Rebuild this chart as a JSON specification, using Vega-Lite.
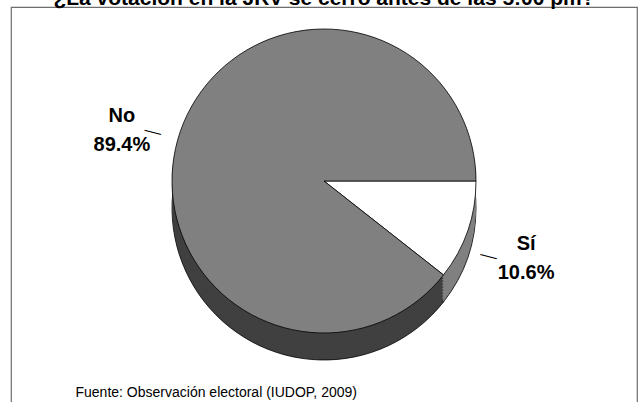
{
  "$schema": "https://vega.github.io/schema/vega-lite/v6.json",
  "width": 626,
  "height": 400,
  "autosize": {"type": "none"},
  "padding": {"left": 11, "top": 7, "right": 4, "bottom": 0},
  "background": "white",
  "config": {
    "view": {"stroke": "#6e6e6e", "strokeWidth": 1.2},
    "font": "Liberation Sans"
  },
  "title": {
    "text": "¿La votación en la JRV se cerró antes de las 5:00 pm?",
    "font": "Liberation Sans",
    "fontSize": 21,
    "fontWeight": "bold",
    "color": "#000000",
    "anchor": "middle",
    "frame": "group",
    "offset": -2
  },
  "data": {
    "values": [
      {"category": "Sí", "value": 0.106},
      {"category": "No", "value": 0.894}
    ]
  },
  "encoding": {
    "x": {
      "datum": 0,
      "type": "quantitative",
      "scale": {"domain": [-1, 1]},
      "axis": {
        "title": "Fuente: Observación electoral (IUDOP, 2009)",
        "labels": false,
        "ticks": false,
        "domain": false,
        "grid": false,
        "titleX": 64,
        "titleY": -11,
        "titleAlign": "left",
        "titleAnchor": "start",
        "titleBaseline": "alphabetic",
        "titleFont": "Liberation Sans",
        "titleFontSize": 14,
        "titleFontWeight": "normal",
        "titleColor": "#000000"
      }
    },
    "y": {
      "datum": 0,
      "type": "quantitative",
      "scale": {"domain": [-0.565, 0.435]},
      "axis": null
    },
    "theta": {
      "field": "value",
      "type": "quantitative",
      "stack": true,
      "scale": {"domain": [0, 1], "range": [1.5708, 7.854]}
    },
    "order": {"field": "category", "sort": "descending"}
  },
  "layer": [
    {
      "mark": {"type": "arc", "radius": 152, "yOffset": 27, "stroke": "#000000", "strokeWidth": 0.8},
      "encoding": {"fill": {"field": "category", "type": "nominal", "scale": {"domain": ["No", "Sí"], "range": ["#404040", "#808080"]}, "legend": null}}
    },
    {
      "mark": {"type": "arc", "radius": 152, "yOffset": 24},
      "encoding": {"fill": {"field": "category", "type": "nominal", "scale": {"domain": ["No", "Sí"], "range": ["#404040", "#808080"]}, "legend": null}}
    },
    {
      "mark": {"type": "arc", "radius": 152, "yOffset": 21},
      "encoding": {"fill": {"field": "category", "type": "nominal", "scale": {"domain": ["No", "Sí"], "range": ["#404040", "#808080"]}, "legend": null}}
    },
    {
      "mark": {"type": "arc", "radius": 152, "yOffset": 18},
      "encoding": {"fill": {"field": "category", "type": "nominal", "scale": {"domain": ["No", "Sí"], "range": ["#404040", "#808080"]}, "legend": null}}
    },
    {
      "mark": {"type": "arc", "radius": 152, "yOffset": 15},
      "encoding": {"fill": {"field": "category", "type": "nominal", "scale": {"domain": ["No", "Sí"], "range": ["#404040", "#808080"]}, "legend": null}}
    },
    {
      "mark": {"type": "arc", "radius": 152, "yOffset": 12},
      "encoding": {"fill": {"field": "category", "type": "nominal", "scale": {"domain": ["No", "Sí"], "range": ["#404040", "#808080"]}, "legend": null}}
    },
    {
      "mark": {"type": "arc", "radius": 152, "yOffset": 9},
      "encoding": {"fill": {"field": "category", "type": "nominal", "scale": {"domain": ["No", "Sí"], "range": ["#404040", "#808080"]}, "legend": null}}
    },
    {
      "mark": {"type": "arc", "radius": 152, "yOffset": 6},
      "encoding": {"fill": {"field": "category", "type": "nominal", "scale": {"domain": ["No", "Sí"], "range": ["#404040", "#808080"]}, "legend": null}}
    },
    {
      "mark": {"type": "arc", "radius": 152, "yOffset": 3},
      "encoding": {"fill": {"field": "category", "type": "nominal", "scale": {"domain": ["No", "Sí"], "range": ["#404040", "#808080"]}, "legend": null}}
    },
    {
      "mark": {"type": "arc", "radius": 152, "stroke": "#000000", "strokeWidth": 0.8},
      "encoding": {"color": {"field": "category", "type": "nominal", "scale": {"domain": ["No", "Sí"], "range": ["#808080", "#ffffff"]}, "legend": null}}
    },
    {
      "mark": {"type": "text", "text": "—", "radius": 179, "thetaOffset": 0.021, "dy": 13.25, "angle": 14, "fontSize": 17, "color": "#000000", "font": "Liberation Sans"}
    },
    {
      "mark": {"type": "text", "radius": 212, "thetaOffset": -0.026, "dy": -0.75, "fontSize": 20, "fontWeight": "bold", "color": "#000000", "font": "Liberation Sans"},
      "encoding": {"text": {"field": "category", "type": "nominal"}}
    },
    {
      "mark": {"type": "text", "radius": 212, "thetaOffset": -0.026, "dy": 28.25, "fontSize": 20, "fontWeight": "bold", "color": "#000000", "font": "Liberation Sans"},
      "encoding": {"text": {"field": "value", "type": "quantitative", "format": ".1%"}}
    }
  ]
}
